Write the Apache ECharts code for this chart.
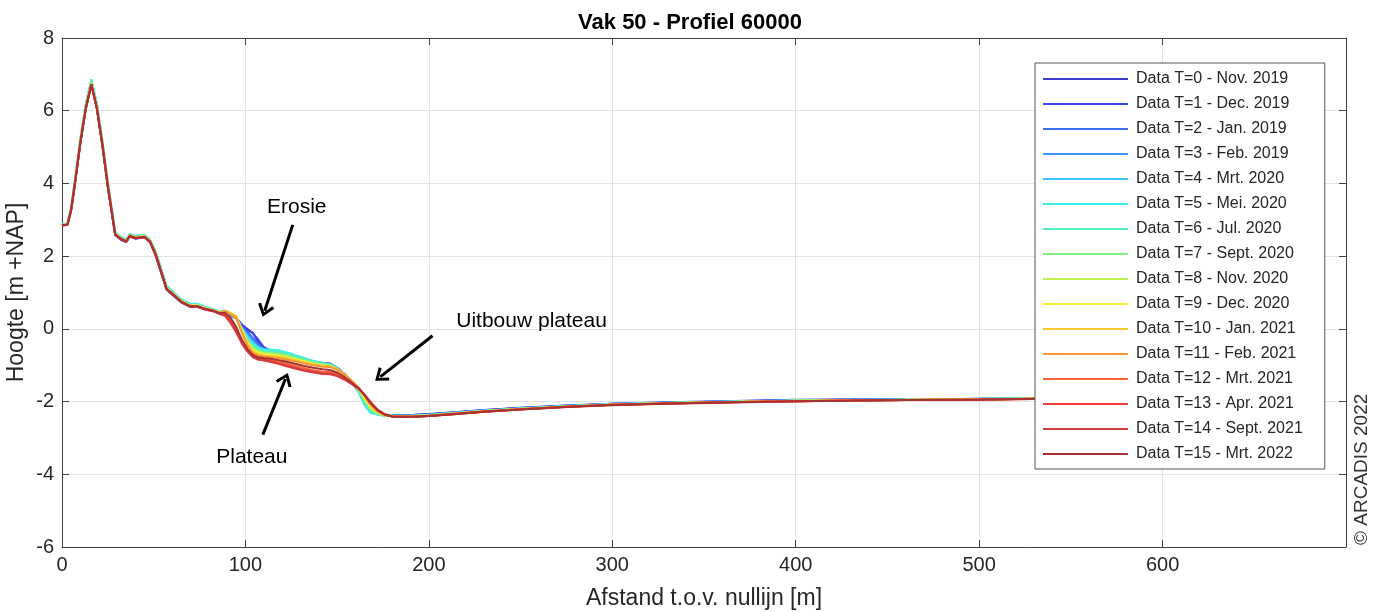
<!DOCTYPE html>
<html>
<head>
<meta charset="utf-8">
<script src="https://cdn.jsdelivr.net/npm/echarts@6/dist/echarts.min.js"></script>
<style>
html,body{margin:0;padding:0;background:#fff;}
#chart{width:1380px;height:612px;}
</style>
</head>
<body>
<div id="chart"></div>
<script>
// Distance along profile [m]
const distance = [0, 3, 5, 7, 10, 13, 16, 19, 22, 25, 29, 32, 35, 37, 40, 45, 48, 51, 54, 57, 61, 65, 70, 74, 78, 82, 86, 89,
  92, 95, 98, 101, 104, 107, 110, 114, 118, 122, 127, 132, 137, 142, 146, 150, 154, 158, 162, 165, 168, 172, 176, 180,
  186, 192, 200, 215, 230, 250, 275, 300, 330, 360, 400, 430, 460, 500, 530, 560, 600, 640, 680];

const seriesNames = [
  'Data T=0 - Nov. 2019', 'Data T=1 - Dec. 2019', 'Data T=2 - Jan. 2019', 'Data T=3 - Feb. 2019',
  'Data T=4 - Mrt. 2020', 'Data T=5 - Mei. 2020', 'Data T=6 - Jul. 2020', 'Data T=7 - Sept. 2020',
  'Data T=8 - Nov. 2020', 'Data T=9 - Dec. 2020', 'Data T=10 - Jan. 2021', 'Data T=11 - Feb. 2021',
  'Data T=12 - Mrt. 2021', 'Data T=13 - Apr. 2021', 'Data T=14 - Sept. 2021', 'Data T=15 - Mrt. 2022'
];

// Height [m +NAP] per survey
const t0 = [2.84, 2.87, 3.28, 3.98, 5.12, 6.08, 6.74, 6.08, 5.06, 3.9, 2.58, 2.45, 2.38, 2.54, 2.48, 2.52, 2.38, 2.02, 1.55, 1.08, 0.9, 0.73, 0.6, 0.6, 0.53, 0.5, 0.42, 0.45,
  0.38, 0.3, 0.12, 0.0, -0.12, -0.3, -0.5, -0.6, -0.65, -0.7, -0.77, -0.84, -0.9, -0.95, -0.96, -1.07, -1.24, -1.45, -1.72, -2.02, -2.24, -2.33, -2.36, -2.37,
  -2.37, -2.36, -2.34, -2.29, -2.23, -2.17, -2.11, -2.06, -2.02, -1.99, -1.95, -1.94, -1.93, -1.94, -1.91, -1.88, -1.89, -1.87, -1.88];
const t1 = [2.84, 2.87, 3.29, 3.99, 5.13, 6.09, 6.76, 6.09, 5.07, 3.91, 2.59, 2.46, 2.39, 2.55, 2.49, 2.53, 2.39, 2.03, 1.56, 1.09, 0.91, 0.74, 0.61, 0.61, 0.54, 0.5, 0.43, 0.46,
  0.4, 0.32, 0.1, -0.05, -0.1, -0.38, -0.52, -0.6, -0.64, -0.69, -0.76, -0.83, -0.89, -0.94, -0.95, -1.07, -1.25, -1.46, -1.73, -2.04, -2.26, -2.34, -2.37, -2.38,
  -2.38, -2.37, -2.35, -2.3, -2.24, -2.18, -2.12, -2.06, -2.03, -2.0, -1.96, -1.95, -1.95, -1.92, -1.9, -1.89, -1.88, -1.88, -1.87];
const t2 = [2.85, 2.88, 3.3, 4.0, 5.14, 6.1, 6.77, 6.1, 5.08, 3.92, 2.6, 2.47, 2.4, 2.56, 2.5, 2.54, 2.4, 2.05, 1.58, 1.1, 0.93, 0.75, 0.62, 0.62, 0.55, 0.51, 0.43, 0.46,
  0.36, 0.28, 0.05, -0.08, -0.25, -0.42, -0.55, -0.62, -0.66, -0.71, -0.78, -0.85, -0.91, -0.96, -0.97, -1.08, -1.25, -1.46, -1.74, -2.05, -2.27, -2.35, -2.37, -2.38,
  -2.38, -2.37, -2.35, -2.3, -2.24, -2.18, -2.11, -2.07, -2.03, -2.0, -1.97, -1.94, -1.94, -1.93, -1.91, -1.89, -1.9, -1.88, -1.88];
const t3 = [2.86, 2.89, 3.32, 4.03, 5.18, 6.13, 6.8, 6.14, 5.13, 3.98, 2.64, 2.5, 2.43, 2.59, 2.53, 2.56, 2.43, 2.1, 1.63, 1.15, 0.97, 0.78, 0.66, 0.66, 0.57, 0.53, 0.45, 0.48,
  0.4, 0.3, 0.02, -0.15, -0.32, -0.48, -0.56, -0.6, -0.63, -0.68, -0.75, -0.83, -0.9, -0.95, -0.96, -1.08, -1.26, -1.47, -1.75, -2.08, -2.28, -2.35, -2.37, -2.38,
  -2.39, -2.38, -2.36, -2.31, -2.25, -2.19, -2.12, -2.07, -2.03, -2.0, -1.97, -1.95, -1.94, -1.92, -1.9, -1.89, -1.89, -1.88, -1.88];
const t4 = [2.87, 2.9, 3.35, 4.06, 5.22, 6.18, 6.85, 6.19, 5.17, 4.02, 2.66, 2.52, 2.45, 2.61, 2.55, 2.58, 2.45, 2.12, 1.66, 1.18, 0.99, 0.8, 0.68, 0.68, 0.59, 0.55, 0.47, 0.5,
  0.42, 0.32, 0.0, -0.2, -0.38, -0.5, -0.57, -0.58, -0.6, -0.65, -0.73, -0.81, -0.89, -0.95, -0.98, -1.09, -1.27, -1.48, -1.76, -2.1, -2.3, -2.36, -2.38, -2.39,
  -2.39, -2.39, -2.37, -2.31, -2.25, -2.19, -2.12, -2.07, -2.03, -2.0, -1.97, -1.95, -1.94, -1.92, -1.91, -1.9, -1.89, -1.89, -1.88];
const t5 = [2.87, 2.9, 3.36, 4.07, 5.23, 6.2, 6.86, 6.2, 5.18, 4.03, 2.67, 2.53, 2.46, 2.62, 2.56, 2.59, 2.46, 2.13, 1.67, 1.19, 1.0, 0.81, 0.69, 0.69, 0.6, 0.55, 0.47, 0.5,
  0.44, 0.34, 0.02, -0.22, -0.4, -0.52, -0.57, -0.57, -0.59, -0.64, -0.72, -0.8, -0.88, -0.94, -0.97, -1.08, -1.26, -1.48, -1.75, -2.08, -2.29, -2.36, -2.38, -2.39,
  -2.39, -2.39, -2.37, -2.31, -2.25, -2.19, -2.13, -2.07, -2.04, -2.01, -1.97, -1.96, -1.94, -1.93, -1.91, -1.9, -1.89, -1.88, -1.88];
const t6 = [2.86, 2.89, 3.33, 4.04, 5.2, 6.15, 6.82, 6.16, 5.14, 3.99, 2.65, 2.51, 2.44, 2.6, 2.54, 2.57, 2.44, 2.11, 1.64, 1.16, 0.98, 0.79, 0.67, 0.66, 0.58, 0.54, 0.46, 0.49,
  0.42, 0.3, -0.02, -0.28, -0.45, -0.56, -0.6, -0.61, -0.63, -0.68, -0.75, -0.83, -0.9, -0.96, -0.98, -1.09, -1.27, -1.47, -1.73, -2.02, -2.25, -2.35, -2.38, -2.39,
  -2.4, -2.39, -2.37, -2.32, -2.26, -2.2, -2.13, -2.08, -2.04, -2.01, -1.98, -1.96, -1.95, -1.93, -1.91, -1.9, -1.9, -1.89, -1.89];
const t7 = [2.86, 2.88, 3.31, 4.02, 5.17, 6.12, 6.78, 6.12, 5.11, 3.96, 2.63, 2.5, 2.43, 2.59, 2.53, 2.56, 2.43, 2.09, 1.61, 1.13, 0.96, 0.77, 0.65, 0.65, 0.57, 0.53, 0.45, 0.48,
  0.4, 0.28, -0.05, -0.32, -0.5, -0.6, -0.65, -0.66, -0.68, -0.72, -0.79, -0.86, -0.93, -0.98, -1.0, -1.1, -1.27, -1.47, -1.7, -1.97, -2.2, -2.33, -2.38, -2.39,
  -2.4, -2.4, -2.38, -2.32, -2.26, -2.2, -2.13, -2.08, -2.04, -2.01, -1.98, -1.96, -1.95, -1.93, -1.91, -1.9, -1.9, -1.89, -1.89];
const t8 = [2.85, 2.88, 3.3, 4.01, 5.16, 6.11, 6.77, 6.11, 5.1, 3.95, 2.62, 2.5, 2.42, 2.58, 2.52, 2.55, 2.42, 2.08, 1.6, 1.12, 0.95, 0.76, 0.64, 0.64, 0.56, 0.52, 0.44, 0.47,
  0.42, 0.3, -0.02, -0.35, -0.55, -0.64, -0.68, -0.7, -0.72, -0.76, -0.82, -0.88, -0.95, -1.0, -1.02, -1.11, -1.27, -1.46, -1.68, -1.93, -2.16, -2.31, -2.37, -2.39,
  -2.4, -2.4, -2.38, -2.32, -2.26, -2.2, -2.14, -2.08, -2.04, -2.01, -1.98, -1.96, -1.95, -1.93, -1.92, -1.9, -1.9, -1.89, -1.89];
const t9 = [2.85, 2.88, 3.3, 4.0, 5.15, 6.1, 6.76, 6.1, 5.1, 3.95, 2.62, 2.49, 2.42, 2.57, 2.52, 2.55, 2.42, 2.07, 1.6, 1.12, 0.95, 0.76, 0.64, 0.64, 0.56, 0.52, 0.44, 0.48,
  0.44, 0.33, 0.0, -0.36, -0.58, -0.66, -0.7, -0.72, -0.74, -0.78, -0.84, -0.9, -0.96, -1.01, -1.03, -1.11, -1.26, -1.45, -1.66, -1.9, -2.13, -2.3, -2.37, -2.4,
  -2.41, -2.4, -2.38, -2.33, -2.27, -2.21, -2.14, -2.09, -2.05, -2.02, -1.98, -1.97, -1.95, -1.94, -1.92, -1.91, -1.9, -1.89, -1.89];
const t10 = [2.85, 2.87, 3.29, 3.99, 5.14, 6.09, 6.75, 6.09, 5.09, 3.94, 2.61, 2.49, 2.41, 2.57, 2.51, 2.54, 2.41, 2.07, 1.59, 1.11, 0.94, 0.75, 0.63, 0.63, 0.55, 0.51, 0.45, 0.5,
  0.43, 0.35, -0.05, -0.4, -0.62, -0.7, -0.73, -0.75, -0.77, -0.8, -0.86, -0.92, -0.97, -1.01, -1.02, -1.1, -1.25, -1.43, -1.63, -1.86, -2.1, -2.29, -2.37, -2.4,
  -2.41, -2.41, -2.39, -2.33, -2.27, -2.21, -2.14, -2.09, -2.05, -2.02, -1.99, -1.97, -1.96, -1.94, -1.92, -1.91, -1.9, -1.9, -1.89];
const t11 = [2.84, 2.87, 3.28, 3.99, 5.13, 6.08, 6.74, 6.08, 5.08, 3.93, 2.6, 2.48, 2.41, 2.56, 2.5, 2.54, 2.4, 2.06, 1.58, 1.1, 0.93, 0.75, 0.63, 0.62, 0.55, 0.51, 0.44, 0.48,
  0.4, 0.3, -0.1, -0.45, -0.66, -0.73, -0.76, -0.78, -0.8, -0.84, -0.89, -0.95, -1.0, -1.04, -1.05, -1.12, -1.26, -1.43, -1.62, -1.84, -2.07, -2.27, -2.37, -2.41,
  -2.42, -2.41, -2.39, -2.33, -2.27, -2.21, -2.14, -2.09, -2.05, -2.02, -1.99, -1.97, -1.96, -1.94, -1.92, -1.91, -1.91, -1.9, -1.9];
const t12 = [2.84, 2.86, 3.28, 3.98, 5.12, 6.07, 6.73, 6.07, 5.07, 3.92, 2.6, 2.48, 2.4, 2.56, 2.5, 2.53, 2.4, 2.05, 1.58, 1.1, 0.93, 0.74, 0.62, 0.62, 0.54, 0.5, 0.42, 0.4,
  0.25, 0.0, -0.3, -0.55, -0.72, -0.8, -0.82, -0.86, -0.9, -0.95, -1.02, -1.08, -1.14, -1.18, -1.19, -1.25, -1.36, -1.5, -1.65, -1.82, -2.02, -2.24, -2.36, -2.41,
  -2.42, -2.41, -2.39, -2.33, -2.27, -2.21, -2.14, -2.09, -2.05, -2.02, -1.99, -1.97, -1.96, -1.94, -1.92, -1.91, -1.9, -1.9, -1.9];
const t13 = [2.84, 2.86, 3.27, 3.97, 5.11, 6.06, 6.72, 6.06, 5.06, 3.91, 2.59, 2.47, 2.4, 2.55, 2.49, 2.53, 2.39, 2.05, 1.57, 1.09, 0.92, 0.74, 0.62, 0.61, 0.54, 0.5, 0.41, 0.35,
  0.15, -0.1, -0.4, -0.62, -0.78, -0.85, -0.87, -0.91, -0.96, -1.02, -1.09, -1.15, -1.2, -1.24, -1.25, -1.3, -1.4, -1.52, -1.66, -1.81, -2.0, -2.22, -2.35, -2.41,
  -2.42, -2.42, -2.4, -2.34, -2.28, -2.22, -2.15, -2.09, -2.05, -2.02, -1.99, -1.97, -1.96, -1.94, -1.93, -1.91, -1.91, -1.9, -1.9];
const t14 = [2.84, 2.86, 3.27, 3.97, 5.11, 6.06, 6.72, 6.06, 5.06, 3.91, 2.59, 2.47, 2.4, 2.55, 2.49, 2.52, 2.39, 2.04, 1.57, 1.09, 0.92, 0.73, 0.61, 0.61, 0.53, 0.49, 0.42, 0.38,
  0.2, -0.05, -0.35, -0.6, -0.76, -0.83, -0.85, -0.9, -0.95, -1.0, -1.07, -1.13, -1.18, -1.22, -1.23, -1.28, -1.38, -1.51, -1.66, -1.82, -2.0, -2.22, -2.35, -2.41,
  -2.42, -2.42, -2.4, -2.34, -2.28, -2.21, -2.14, -2.09, -2.05, -2.02, -1.99, -1.97, -1.96, -1.94, -1.92, -1.91, -1.9, -1.9, -1.89];
const t15 = [2.85, 2.87, 3.28, 3.98, 5.12, 6.07, 6.73, 6.07, 5.07, 3.92, 2.6, 2.48, 2.41, 2.56, 2.5, 2.53, 2.4, 2.06, 1.58, 1.1, 0.93, 0.75, 0.62, 0.62, 0.55, 0.51, 0.43, 0.44,
  0.3, 0.05, -0.3, -0.55, -0.72, -0.78, -0.8, -0.82, -0.86, -0.9, -0.96, -1.02, -1.07, -1.11, -1.13, -1.2, -1.33, -1.48, -1.65, -1.83, -2.03, -2.24, -2.36, -2.41,
  -2.42, -2.42, -2.4, -2.34, -2.28, -2.22, -2.15, -2.1, -2.06, -2.03, -1.99, -1.98, -1.96, -1.95, -1.93, -1.92, -1.91, -1.9, -1.9];

const heights = [t0, t1, t2, t3, t4, t5, t6, t7, t8, t9, t10, t11, t12, t13, t14, t15];

const colors = ['#3c3cd2', '#3c46f0', '#3c6cf0', '#3c96f5', '#3cc3f8', '#3cf0f0', '#50f0c0', '#82f082',
  '#c0f050', '#f5f032', '#f8c832', '#f89632', '#f86432', '#f03c3c', '#d23c3c', '#a83232'];

// Annotations (data coordinates)
const annotationTexts = [
  { name: 'Erosie', coord: [128, 3.35] },
  { name: 'Uitbouw plateau', coord: [256, 0.2] },
  { name: 'Plateau', coord: [103.5, -3.54] }
];
const annotationArrows = [
  [[125.8, 2.86], [110.5, 0.5]],
  [[202, -0.19], [173.5, -1.32]],
  [[109.5, -2.91], [121.8, -1.38]]
];

const FONT = 'Liberation Sans, Arial, sans-serif';

const chart = echarts.init(document.getElementById('chart'));

const series = seriesNames.map((name, k) => ({
  name: name,
  type: 'line',
  data: distance.map((x, i) => [x, heights[k][i]]),
  symbol: 'none',
  showSymbol: false,
  lineStyle: { color: colors[k], width: 2 },
  itemStyle: { color: colors[k] },
  z: 2,
  silent: true,
  animation: false
}));

const chevron = 'path://M10,0 L20,13 L17,15 L10,5.5 L3,15 L0,13 Z';

series.push({
  name: 'annotaties',
  type: 'line',
  data: [],
  silent: true,
  animation: false,
  z: 5,
  markLine: {
    silent: true,
    animation: false,
    symbol: ['none', chevron],
    symbolSize: [17, 13],
    lineStyle: { color: '#000', width: 3, type: 'solid' },
    label: { show: false },
    data: annotationArrows.map(a => [{ coord: a[0] }, { coord: a[1] }])
  },
  markPoint: {
    silent: true,
    animation: false,
    symbol: 'circle',
    symbolSize: 0,
    label: {
      show: true,
      position: 'inside',
      formatter: p => p.name,
      fontFamily: FONT,
      fontSize: 21,
      color: '#000'
    },
    data: annotationTexts.map(t => ({ name: t.name, coord: t.coord }))
  }
});

const axisLineStyle = { color: '#404040', width: 1 };

chart.setOption({
  animation: false,
  backgroundColor: '#fff',
  title: {
    text: 'Vak 50 - Profiel 60000',
    left: 'center',
    top: 7,
    textStyle: { fontFamily: FONT, fontSize: 22, fontWeight: 'bold', color: '#000' }
  },
  grid: { left: 62, right: 34, top: 38, bottom: 65, containLabel: false, outerBoundsMode: 'none' },
  legend: {
    data: seriesNames,
    orient: 'vertical',
    left: 1035,
    top: 63,
    z: 50,
    icon: 'rect',
    itemWidth: 85,
    itemHeight: 2,
    itemGap: 7,
    padding: [7, 22, 6, 8],
    backgroundColor: '#fff',
    borderColor: '#555',
    borderWidth: 1,
    selectedMode: false,
    textStyle: { fontFamily: FONT, fontSize: 16, color: '#262626', lineHeight: 18, padding: [0, 0, 0, 3] }
  },
  xAxis: [{
    type: 'value',
    min: 0, max: 700, interval: 100,
    position: 'bottom',
    name: 'Afstand t.o.v. nullijn [m]',
    nameLocation: 'middle',
    nameGap: 40,
    nameMoveOverlap: false,
    nameTextStyle: { fontFamily: FONT, fontSize: 23, color: '#262626' },
    axisLine: { show: true, onZero: false, lineStyle: axisLineStyle },
    axisTick: { show: true, inside: true, length: 7, lineStyle: axisLineStyle },
    axisLabel: { fontFamily: FONT, fontSize: 20, color: '#262626', margin: 8, showMaxLabel: false },
    splitLine: { show: true, lineStyle: { color: '#e3e3e3', width: 1 } }
  }, {
    type: 'value',
    min: 0, max: 700, interval: 100,
    position: 'top',
    axisLine: { show: true, onZero: false, lineStyle: axisLineStyle },
    axisTick: { show: true, inside: true, length: 7, lineStyle: axisLineStyle },
    axisLabel: { show: false },
    splitLine: { show: false }
  }],
  yAxis: [{
    type: 'value',
    min: -6, max: 8, interval: 2,
    position: 'left',
    name: 'Hoogte [m +NAP]',
    nameLocation: 'middle',
    nameRotate: 90,
    nameGap: 34,
    nameMoveOverlap: false,
    nameTextStyle: { fontFamily: FONT, fontSize: 23, color: '#262626' },
    axisLine: { show: true, onZero: false, lineStyle: axisLineStyle },
    axisTick: { show: true, inside: true, length: 7, lineStyle: axisLineStyle },
    axisLabel: { fontFamily: FONT, fontSize: 20, color: '#262626', margin: 8 },
    splitLine: { show: true, lineStyle: { color: '#e3e3e3', width: 1 } }
  }, {
    type: 'value',
    min: -6, max: 8, interval: 2,
    position: 'right',
    axisLine: { show: true, onZero: false, lineStyle: axisLineStyle },
    axisTick: { show: true, inside: true, length: 7, lineStyle: axisLineStyle },
    axisLabel: { show: false },
    splitLine: { show: false }
  }],
  graphic: [{
    type: 'text',
    x: 1362,
    y: 545,
    rotation: Math.PI / 2,
    style: {
      text: '© ARCADIS 2022',
      font: '19px Liberation Sans, Arial, sans-serif',
      fill: '#333',
      textAlign: 'left',
      textVerticalAlign: 'middle'
    }
  }],
  series: series
});
</script>
</body>
</html>
